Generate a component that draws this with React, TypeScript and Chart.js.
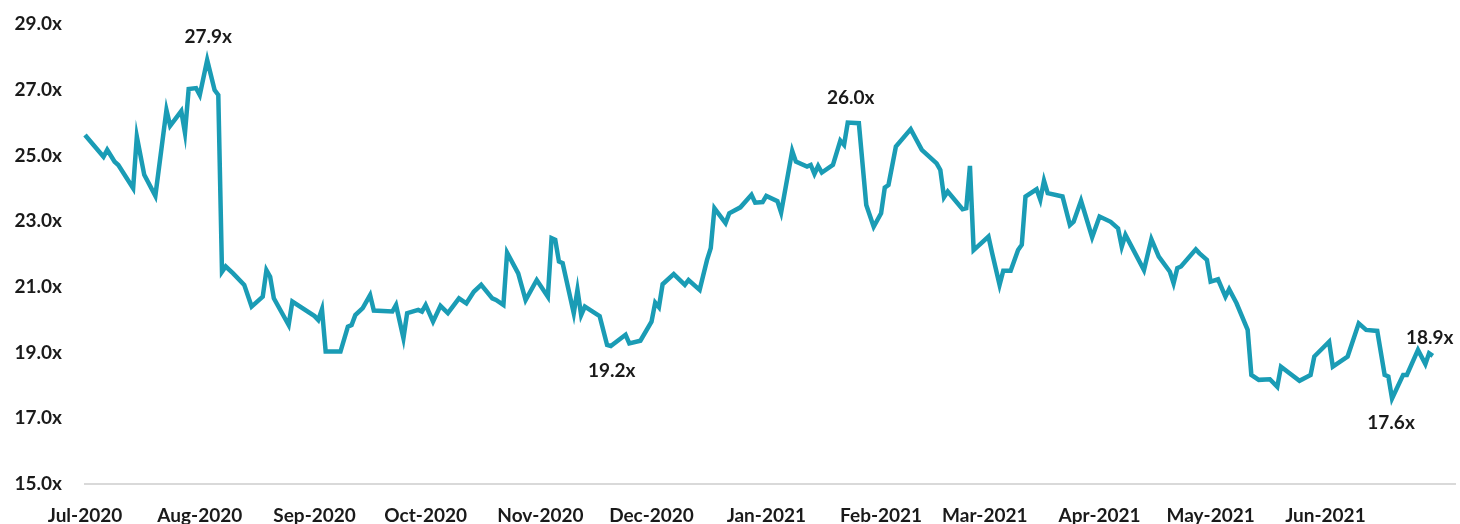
import React, { useEffect, useRef } from "react";
import { Chart, registerables } from "chart.js";

Chart.register(...registerables);

// Month tick labels and their offsets (days since 2020-07-01)
const monthLabels = [
  "Jul-2020", "Aug-2020", "Sep-2020", "Oct-2020", "Nov-2020", "Dec-2020",
  "Jan-2021", "Feb-2021", "Mar-2021", "Apr-2021", "May-2021", "Jun-2021",
];
const monthStartDays = [0, 31, 62, 92, 123, 153, 184, 215, 243, 274, 304, 335];

// Observation dates as days since 2020-07-01
const days = [
  0, 5, 6, 8, 9, 13, 14, 16, 19, 22, 23, 26, 27, 28, 30, 31, 33, 35, 36, 37,
  38, 40, 43, 45, 48, 49, 50, 51, 55, 56, 62, 63, 64, 65, 69, 71, 72, 73, 75, 77,
  78, 83, 84, 86, 87, 90, 91, 92, 94, 96, 98, 101, 103, 105, 107, 110, 111, 113, 114, 117,
  119, 122, 125, 126, 127, 128, 129, 132, 133, 134, 135, 139, 141, 142, 146, 147, 150, 153, 154, 155,
  156, 159, 162, 163, 166, 168, 169, 170, 173, 174, 177, 180, 181, 183, 184, 187, 188, 191, 192, 195,
  196, 197, 198, 199, 202, 204, 205, 206, 209, 211, 213, 215, 216, 217, 219, 223, 226, 230, 231, 232,
  233, 237, 238, 239, 240, 244, 245, 247, 248, 250, 252, 253, 254, 257, 258, 259, 260, 264, 266, 267,
  269, 272, 274, 277, 279, 280, 281, 286, 288, 290, 293, 294, 295, 296, 300, 301, 303, 304, 306, 308,
  309, 311, 314, 315, 317, 320, 322, 323, 328, 331, 332, 336, 337, 341, 344, 346, 349, 351, 352, 353,
  356, 357, 360, 362, 363, 364,
];

// Forward P/E multiple (x)
const peValues = [
  25.62, 24.96, 25.17, 24.81, 24.71, 24.0, 25.57, 24.41, 23.77, 26.38, 25.9, 26.35, 25.69, 27.02, 27.05, 26.84, 27.9, 26.99, 26.84, 21.46,
  21.62, 21.41, 21.06, 20.4, 20.7, 21.51, 21.31, 20.65, 19.84, 20.55, 20.11, 19.99, 20.32, 19.03, 19.03, 19.79, 19.84, 20.14, 20.35, 20.75,
  20.28, 20.25, 20.45, 19.44, 20.2, 20.3, 20.25, 20.45, 19.94, 20.42, 20.2, 20.65, 20.5, 20.85, 21.06, 20.65, 20.6, 20.45, 22.04, 21.41,
  20.6, 21.21, 20.7, 22.48, 22.43, 21.77, 21.72, 20.2, 20.91, 20.14, 20.4, 20.11, 19.23, 19.2, 19.54, 19.28, 19.36, 19.94, 20.52, 20.38,
  21.08, 21.39, 21.06, 21.21, 20.91, 21.82, 22.18, 23.39, 22.94, 23.24, 23.42, 23.8, 23.56, 23.58, 23.77, 23.61, 23.26, 25.14, 24.81, 24.66,
  24.71, 24.44, 24.68, 24.48, 24.71, 25.45, 25.32, 26.0, 25.98, 23.49, 22.83, 23.24, 24.02, 24.1, 25.27, 25.8, 25.17, 24.76, 24.56, 23.73,
  23.9, 23.36, 23.39, 24.68, 22.12, 22.53, 22.02, 21.06, 21.49, 21.49, 22.12, 22.28, 23.75, 23.97, 23.65, 24.23, 23.85, 23.75, 22.88, 22.98,
  23.62, 22.51, 23.14, 22.98, 22.78, 22.22, 22.58, 21.51, 22.45, 21.92, 21.46, 21.11, 21.57, 21.62, 22.14, 22.02, 21.82, 21.16, 21.23, 20.7,
  20.93, 20.5, 19.69, 18.32, 18.17, 18.19, 17.96, 18.57, 18.14, 18.32, 18.88, 19.33, 18.57, 18.88, 19.89, 19.69, 19.66, 18.32, 18.27, 17.6,
  18.32, 18.32, 19.08, 18.65, 18.98, 18.9,
];

// Callout labels: day of the point, text, offset in px
const callouts = [
  { day: 33, text: "27.9x", dx: 1, dy: -23 },
  { day: 206, text: "26.0x", dx: 3, dy: -25 },
  { day: 142, text: "19.2x", dx: 1, dy: 25 },
  { day: 353, text: "17.6x", dx: -1, dy: 24 },
  { day: 364, text: "18.9x", dx: -3, dy: -18 },
];

const FONT_FAMILY = "Lato, 'Open Sans', sans-serif";
const TEXT_COLOR = "#1a1a1a";
const LINE_COLOR = "#1a9cb5";

const calloutPlugin = {
  id: "callouts",
  afterDatasetsDraw(chart: any) {
    const meta = chart.getDatasetMeta(0);
    const ctx = chart.ctx;
    ctx.save();
    ctx.font = `bold 19px ${FONT_FAMILY}`;
    ctx.fillStyle = TEXT_COLOR;
    ctx.textAlign = "center";
    ctx.textBaseline = "middle";
    callouts.forEach((c) => {
      const idx = days.indexOf(c.day);
      const el = meta.data[idx];
      if (!el) return;
      ctx.fillText(c.text, el.x + c.dx, el.y + c.dy);
    });
    ctx.restore();
  },
};

export default function App() {
  const canvasRef = useRef<HTMLCanvasElement | null>(null);

  useEffect(() => {
    document.body.style.margin = "0";
    const canvas = canvasRef.current;
    if (!canvas) return;
    const chart = new Chart(canvas, {
      type: "line",
      data: {
        datasets: [
          {
            data: days.map((d, i) => ({ x: d, y: peValues[i] })),
            borderColor: LINE_COLOR,
            borderWidth: 4.5,
            pointRadius: 0,
            tension: 0,
            fill: false,
            clip: false as any,
          },
        ],
      },
      options: {
        animation: false,
        responsive: false,
        devicePixelRatio: 1,
        layout: { padding: { top: 24, right: 5, left: 0, bottom: 0 } },
        plugins: {
          legend: { display: false },
          tooltip: { enabled: false },
        },
        scales: {
          x: {
            type: "linear",
            min: 0,
            max: 370,
            grid: { display: false, drawTicks: false },
            border: { display: true, color: "#d9d9d9", width: 2 },
            afterBuildTicks: (scale: any) => {
              scale.ticks = monthStartDays.map((v) => ({ value: v }));
            },
            afterFit: (scale: any) => {
              scale.height = 40;
              scale.paddingLeft = 0;
              scale.paddingRight = 0;
            },
            ticks: {
              autoSkip: false,
              maxRotation: 0,
              padding: 20,
              color: TEXT_COLOR,
              font: { family: FONT_FAMILY, size: 19, weight: "bold" },
              callback: (_v: any, i: number) => monthLabels[i],
            },
          },
          y: {
            min: 15,
            max: 29,
            grid: { display: false, drawTicks: false },
            border: { display: false },
            afterFit: (scale: any) => {
              scale.width = 85;
              scale.paddingTop = 0;
              scale.paddingBottom = 0;
            },
            ticks: {
              stepSize: 2,
              padding: 23,
              color: TEXT_COLOR,
              font: { family: FONT_FAMILY, size: 19, weight: "bold" },
              callback: (v: any) => Number(v).toFixed(1) + "x",
            },
          },
        },
      },
      plugins: [calloutPlugin],
    });
    return () => chart.destroy();
  }, []);

  return (
    <div style={{ width: 1460, height: 524 }}>
      <canvas ref={canvasRef} width={1460} height={524} style={{ display: "block" }} />
    </div>
  );
}
